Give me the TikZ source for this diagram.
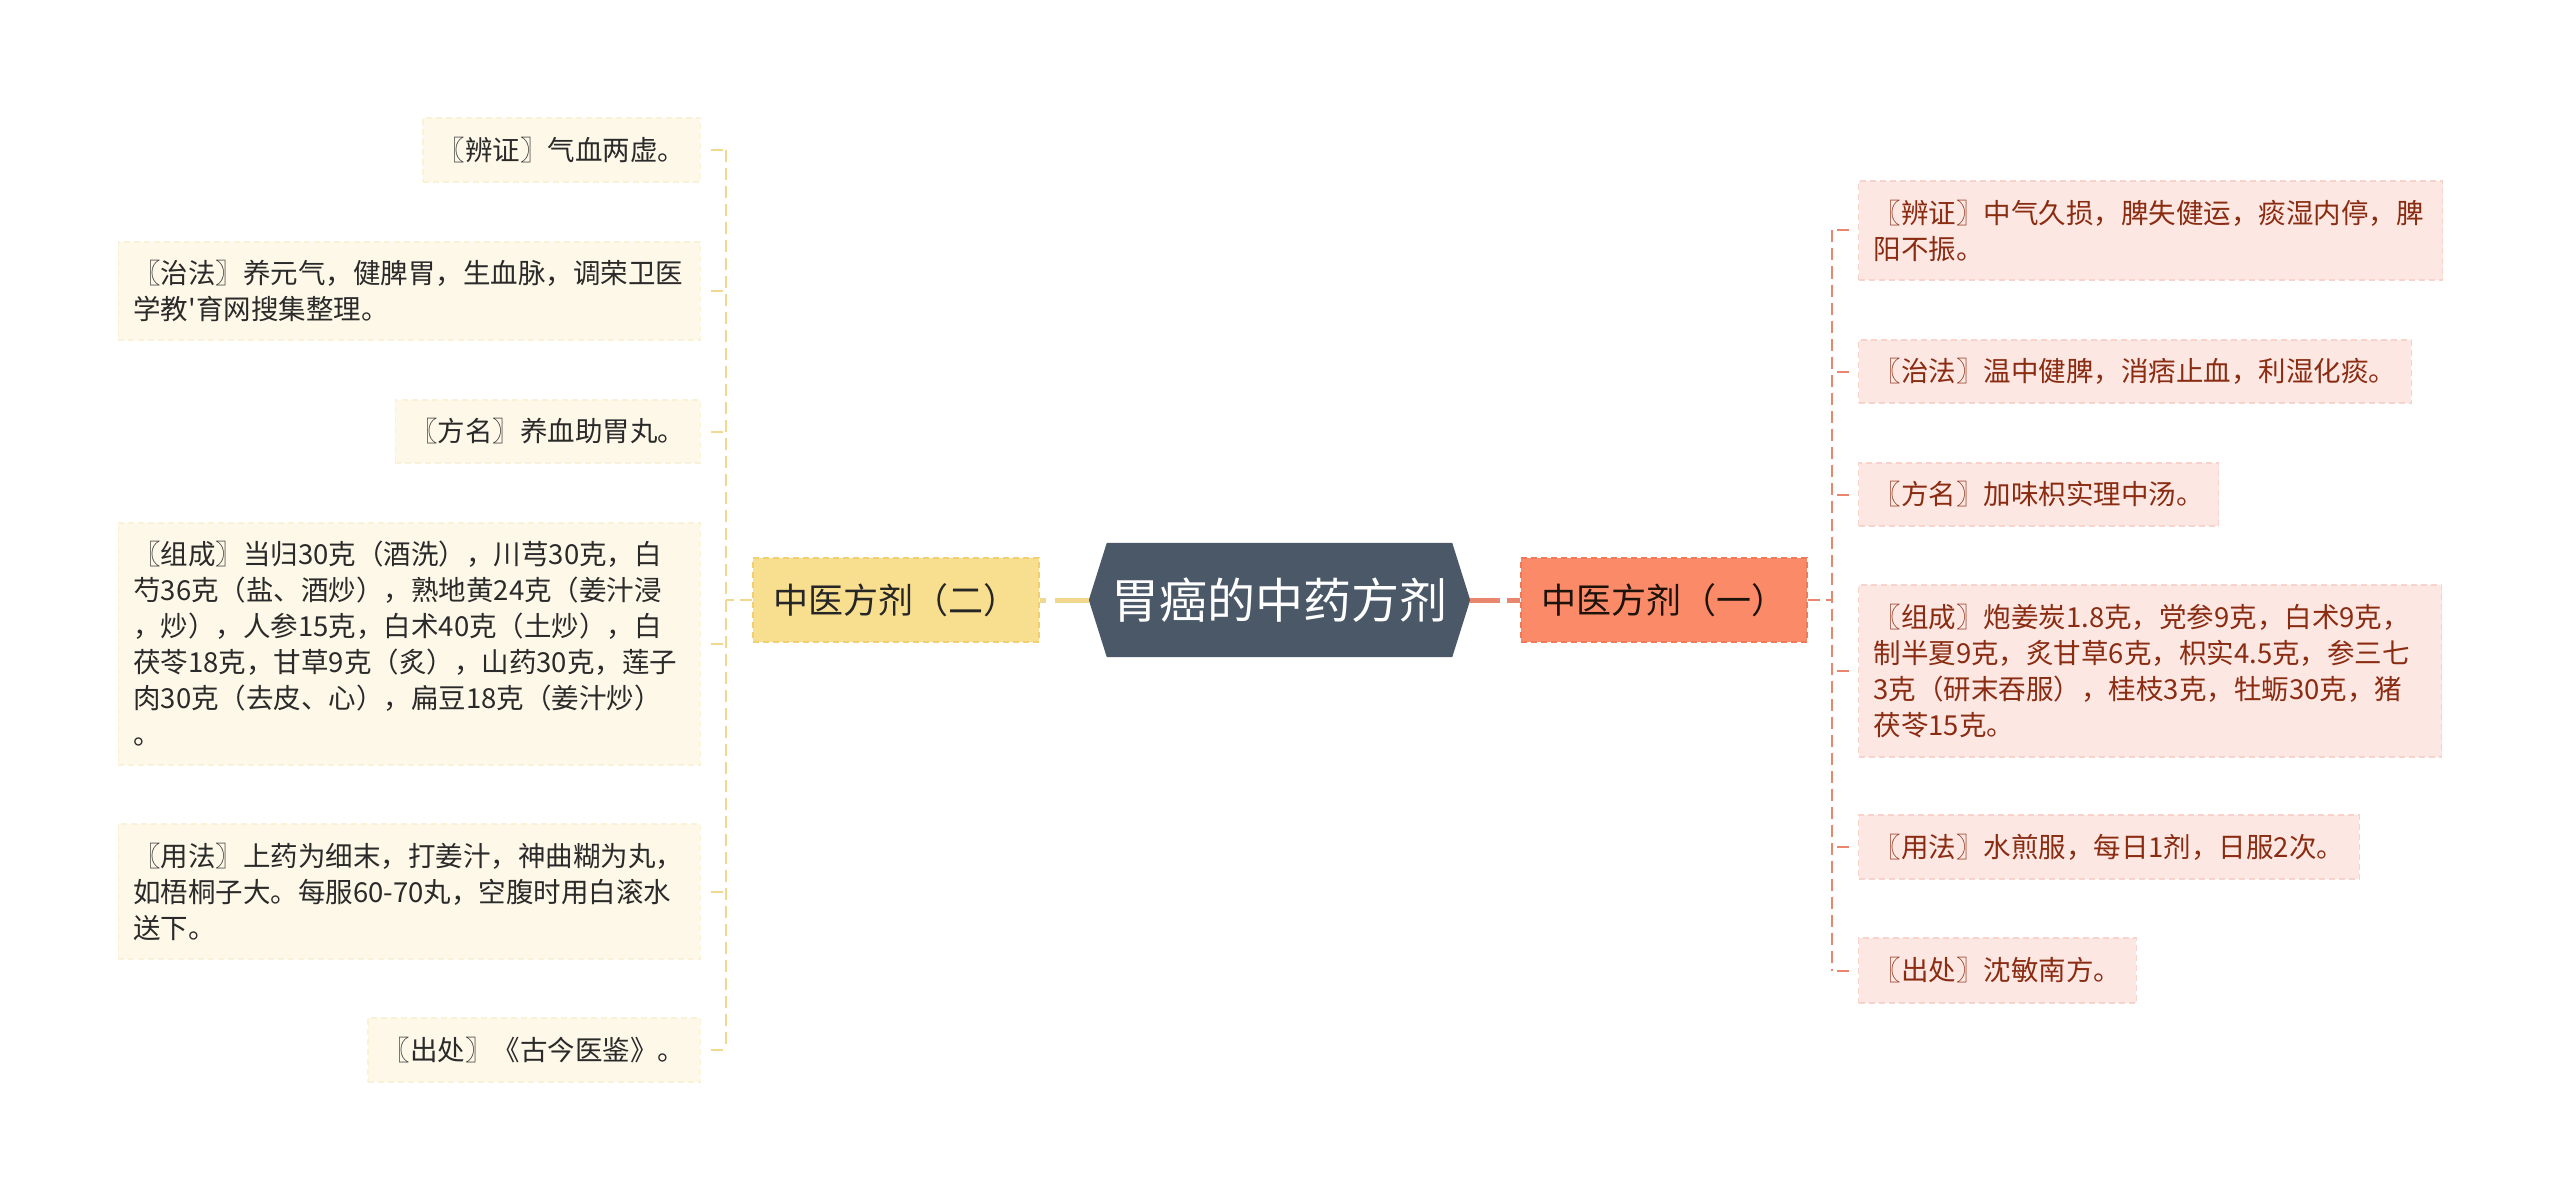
\documentclass[tikz,border=0pt]{standalone}
\usepackage{fontspec}
\newfontfamily\cjk[Ligatures=TeXOff]{Noto Sans CJK SC}
\usetikzlibrary{backgrounds}
\definecolor{leafLfill}{HTML}{FDF8E8}
\definecolor{leafLedge}{HTML}{FAF1D9}
\definecolor{leafLtext}{HTML}{2A2A2A}
\definecolor{leafRfill}{HTML}{FDE7E3}
\definecolor{leafRedge}{HTML}{F7D3CB}
\definecolor{leafRtext}{HTML}{8A2C12}
\definecolor{lineL}{HTML}{F0D98E}
\definecolor{lineR}{HTML}{E9866E}
\definecolor{brLfill}{HTML}{F8DF90}
\definecolor{brLedge}{HTML}{F0D070}
\definecolor{brRfill}{HTML}{FB8A68}
\definecolor{brRedge}{HTML}{F07A58}
\definecolor{rootfill}{HTML}{4A5867}
\tikzset{
  leafbase/.style={font=\cjk\fontsize{27.5}{36}\selectfont, inner xsep=15pt, inner ysep=0pt,
    align=left, line width=1.2pt, dash pattern=on 6pt off 4pt},
  leafL/.style={leafbase, fill=leafLfill, draw=leafLedge, text=leafLtext, anchor=east},
  leafR/.style={leafbase, fill=leafRfill, draw=leafRedge, text=leafRtext, anchor=west},
  brbase/.style={font=\cjk\fontsize{35}{42}\selectfont, minimum width=286pt, minimum height=84pt,
    inner sep=0pt, line width=1.2pt, dash pattern=on 6pt off 4pt},
  brL/.style={brbase, fill=brLfill, draw=brLedge, text=black!85},
  brR/.style={brbase, fill=brRfill, draw=brRedge, text=black!85!brown},
  rootn/.style={font=\cjk\fontsize{48}{56}\selectfont, text=white, minimum width=381pt,
    minimum height=114pt, inner sep=0pt},
  lline/.style={draw=lineL, line width=2pt, dash pattern=on 12pt off 6pt},
  rline/.style={draw=lineR, line width=2pt, dash pattern=on 12pt off 6pt},
  lthick/.style={draw=lineL, line width=5pt, dash pattern=on 6pt off 9pt on 40pt off 0pt},
  rthick/.style={draw=lineR, line width=5pt, dash pattern=on 30pt off 7pt on 20pt off 0pt},
}
\begin{document}
\begin{tikzpicture}[x=1pt,y=-1pt]
\useasboundingbox (0,0) rectangle (2560,1201);
% root and branches
\node[rootn] (root) at (1279.5,600) {胃癌的中药方剂};
\node[brL] (b2) at (896,600) {中医方剂（二）};
\node[brR] (b1) at (1664,600) {中医方剂（一）};
\begin{pgfonlayer}{background}
\fill[white] (0,0) rectangle (2560,1201);
\fill[rootfill] (root.west) -- ([xshift=18pt]root.north west) -- ([xshift=-18pt]root.north east)
  -- (root.east) -- ([xshift=-18pt]root.south east) -- ([xshift=18pt]root.south west) -- cycle;
\end{pgfonlayer}
% left leaves
\node[leafL, minimum height=64pt] (l1) at (701,150) {〖辨证〗气血两虚。};
\node[leafL, text width=552pt, minimum height=98pt] (l2) at (701,291)
  {〖治法〗养元气，健脾胃，生血脉，调荣卫医\\学教'育网搜集整理。};
\node[leafL, minimum height=63pt] (l3) at (701,431.5) {〖方名〗养血助胃丸。};
\node[leafL, text width=552pt, minimum height=242pt] (l4) at (701,644)
  {〖组成〗当归30克（酒洗），川芎30克，白\\芍36克（盐、酒炒），熟地黄24克（姜汁浸\\，炒），人参15克，白术40克（土炒），白\\茯苓18克，甘草9克（炙），山药30克，莲子\\肉30克（去皮、心），扁豆18克（姜汁炒）\\。};
\node[leafL, text width=552pt, minimum height=135pt] (l5) at (701,891.5)
  {〖用法〗上药为细末，打姜汁，神曲糊为丸，\\如梧桐子大。每服60-70丸，空腹时用白滚水\\送下。};
\node[leafL, minimum height=64pt] (l6) at (701,1050) {〖出处〗《古今医鉴》。};
% right leaves
\node[leafR, text width=554pt, minimum height=99pt] (r1) at (1858,230.5)
  {〖辨证〗中气久损，脾失健运，痰湿内停，脾\\阳不振。};
\node[leafR, minimum height=63pt] (r2) at (1858,371.5) {〖治法〗温中健脾，消痞止血，利湿化痰。};
\node[leafR, minimum height=63pt] (r3) at (1858,494.5) {〖方名〗加味枳实理中汤。};
\node[leafR, text width=553pt, minimum height=172pt] (r4) at (1858,671)
  {〖组成〗炮姜炭1.8克，党参9克，白术9克，\\制半夏9克，炙甘草6克，枳实4.5克，参三七\\3克（研末吞服），桂枝3克，牡蛎30克，猪\\茯苓15克。};
\node[leafR, minimum height=64pt] (r5) at (1858,847) {〖用法〗水煎服，每日1剂，日服2次。};
\node[leafR, minimum height=65pt] (r6) at (1858,970.5) {〖出处〗沈敏南方。};
% connectors
\coordinate (lj) at (726,600);
\coordinate (rj) at (1832,600);
\draw[lthick] (b2.east) -- (root.west);
\draw[rthick] (root.east) -- (b1.west);
\draw[lline] (b2.west) -- (lj);
\draw[rline] (b1.east) -- (rj);
\draw[lline] (lj |- l1.east) -- (lj |- l6.east);
\draw[rline] (rj |- r1.west) -- (rj |- r6.west);
\foreach \n in {l1,l2,l3,l4,l5,l6}
  \draw[lline] ([xshift=10pt]\n.east) -- (lj |- \n.east);
\foreach \n in {r1,r2,r3,r4,r5,r6}
  \draw[rline] ([xshift=-9pt]\n.west) -- (rj |- \n.west);
\end{tikzpicture}
\end{document}
